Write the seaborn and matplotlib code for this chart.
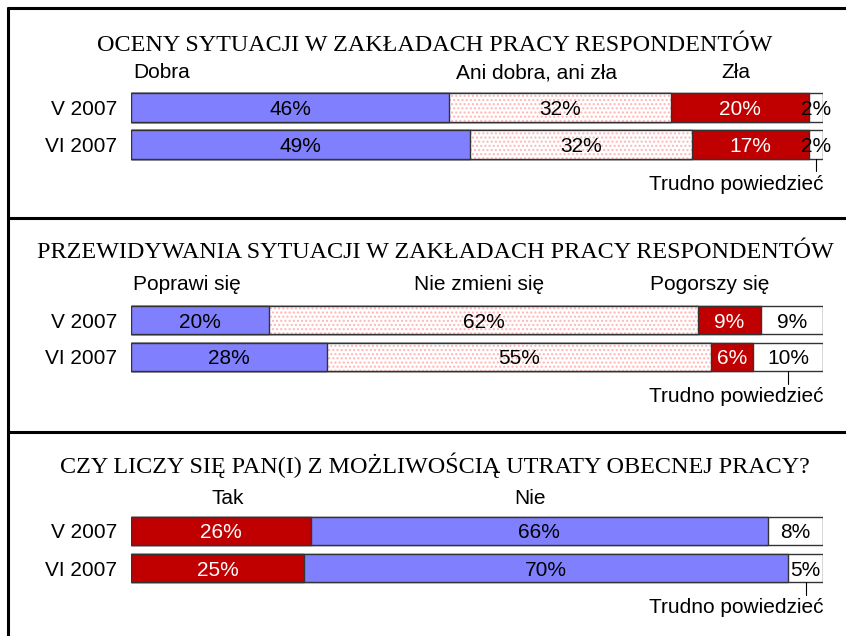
import numpy as np
import pandas as pd
import seaborn as sns
import matplotlib.pyplot as plt
from matplotlib.lines import Line2D

sns.set_theme(style="white")
plt.rcParams['font.family'] = ['Liberation Sans', 'DejaVu Sans']
plt.rcParams['text.color'] = 'black'
plt.rcParams['ytick.color'] = 'black'

W, H = 846, 636

periods = ["V 2007", "VI 2007"]

# panel 1
title1 = "OCENY SYTUACJI W ZAKŁADACH PRACY RESPONDENTÓW"
cats1 = ["Dobra", "Ani dobra, ani zła", "Zła", "Trudno powiedzieć"]
vals1_v = [46, 32, 20, 2]
vals1_vi = [49, 32, 17, 2]

# panel 2
title2 = "PRZEWIDYWANIA SYTUACJI W ZAKŁADACH PRACY RESPONDENTÓW"
cats2 = ["Poprawi się", "Nie zmieni się", "Pogorszy się", "Trudno powiedzieć"]
vals2_v = [20, 62, 9, 9]
vals2_vi = [28, 55, 6, 10]

# panel 3
title3 = "CZY LICZY SIĘ PAN(I) Z MOŻLIWOŚCIĄ UTRATY OBECNEJ PRACY?"
cats3 = ["Tak", "Nie", "Trudno powiedzieć"]
vals3_v = [26, 66, 8]
vals3_vi = [25, 70, 5]

BLUE = "#8080ff"
RED = "#c00000"
WHITE = "#ffffff"
PINK = "dots"
FS = 15

fig = plt.figure(figsize=(W / 100, H / 100), dpi=100)


def px_line(x0, y0, x1, y1, lw=2.2):
    fig.add_artist(Line2D([x0 / W, x1 / W], [1 - y0 / H, 1 - y1 / H],
                          transform=fig.transFigure, color="black", lw=lw))


def draw_panel(top_px, title, title_y, cats, rows, colors, head_x, head_ha, head_y):
    row_h = 37
    ax = fig.add_axes([131 / W, 1 - (top_px + 2 * row_h) / H, 692 / W, 2 * row_h / H])
    df = pd.DataFrame(rows, columns=cats)
    df.insert(0, "okres", periods)
    pct = df[cats].div(df[cats].sum(axis=1), axis=0) * 100
    cum = pct.cumsum(axis=1)
    for i in reversed(range(len(cats))):
        d = pd.DataFrame({"okres": periods, "x": cum[cats[i]].values})
        if colors[i] == PINK:
            sns.barplot(data=d, x="x", y="okres", orient="h", errorbar=None,
                        color="white", width=0.78, ax=ax, hatch="....",
                        edgecolor="#ffb4b4", linewidth=0)
            sns.barplot(data=d, x="x", y="okres", orient="h", errorbar=None,
                        width=0.78, ax=ax, fill=False, edgecolor="#333333",
                        linewidth=1.0, color="#333333")
        else:
            sns.barplot(data=d, x="x", y="okres", orient="h", errorbar=None,
                        color=colors[i], saturation=1, width=0.78, ax=ax,
                        edgecolor="#333333", linewidth=1.0)
    # value labels
    for r in range(len(periods)):
        for i, c in enumerate(cats):
            xc = cum[c].iloc[r] - pct[c].iloc[r] / 2
            tc = "white" if colors[i] == RED else "black"
            ax.text(xc, r, f"{df[c].iloc[r]}%", ha="center", va="center_baseline",
                    fontsize=FS, color=tc)
    ax.set_xlim(0, 100)
    ax.set_ylim(1.5, -0.5)
    ax.set_xlabel("")
    ax.set_ylabel("")
    ax.set_xticks([])
    ax.tick_params(axis="y", length=0, pad=10, labelsize=FS, labelcolor="black")
    for s in ax.spines.values():
        s.set_visible(False)
    ax.patch.set_alpha(0)
    # category headers
    for i, c in enumerate(cats[:-1]):
        fig.text(head_x[i] / W, 1 - head_y / H, c, ha=head_ha[i],
                 va="center_baseline", fontsize=FS)
    # "Trudno powiedzieć" marker under last segment of second row
    last = cats[-1]
    xm = cum[last].iloc[1] - pct[last].iloc[1] / 2
    ax.plot([xm, xm], [1.39, 1.72], color="black", lw=0.8, clip_on=False)
    ax.text(100, 2.02, last, ha="right", va="center_baseline", fontsize=FS)
    fig.text(435 / W, 1 - title_y / H, title, ha="center", va="center_baseline",
             fontsize=17.4, family="Liberation Serif")
    return ax


draw_panel(89, title1, 43, cats1, [vals1_v, vals1_vi], [BLUE, PINK, RED, WHITE],
           [133, 537, 736], ["left", "center", "center"], 71)
draw_panel(301.5, title2, 250, cats2, [vals2_v, vals2_vi], [BLUE, PINK, RED, WHITE],
           [133, 479, 710], ["left", "center", "center"], 283)
draw_panel(512.5, title3, 463, cats3, [vals3_v, vals3_vi], [RED, BLUE, WHITE],
           [228, 530], ["center", "center"], 497)

# frame lines
px_line(8, 8, 846, 8)
px_line(8, 8, 8, 636)
px_line(8, 218, 846, 218)
px_line(8, 432, 846, 432)

fig.savefig("out.png", dpi=100)
